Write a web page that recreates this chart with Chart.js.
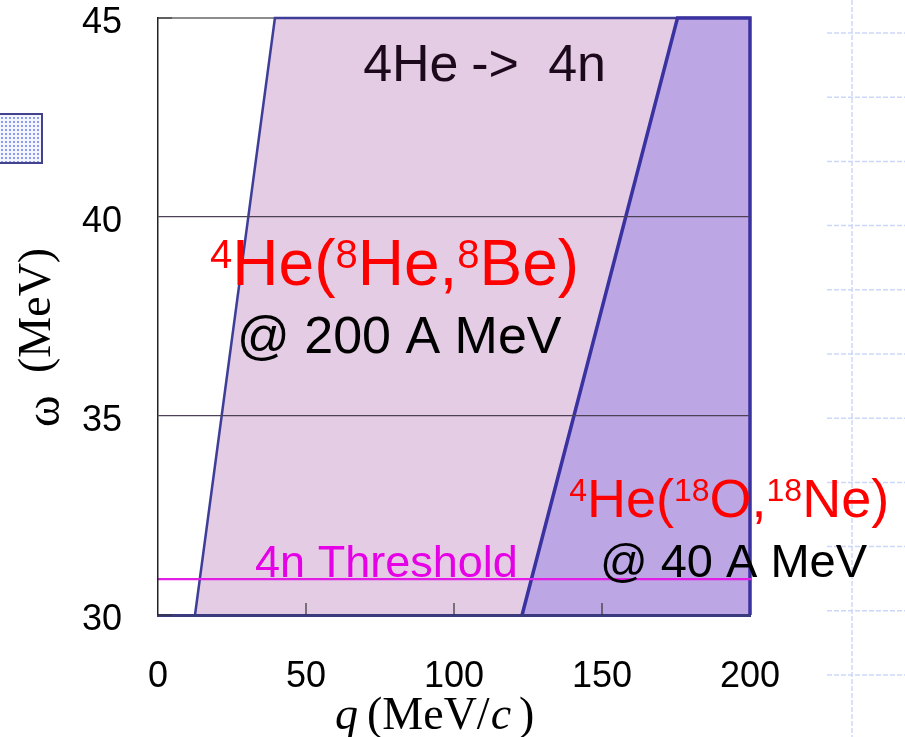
<!DOCTYPE html>
<html>
<head>
<meta charset="utf-8">
<script src="https://cdn.jsdelivr.net/npm/chart.js@4.4.1/dist/chart.umd.min.js"></script>
<style>
  html, body { margin: 0; padding: 0; background: #fff; }
  #wrap { width: 905px; height: 737px; }
</style>
</head>
<body>
<div id="wrap"><canvas id="chart" width="905" height="737"></canvas></div>
<script>
// axis ticks
const qTicks = [0, 50, 100, 150, 200];
const omegaTicks = [30, 35, 40, 45];

// 4He(8He,8Be) @ 200 A MeV : left edge + top of the covered region (q, omega)
const he8Q = [12.5, 39.5, 200];
const he8W = [30, 45, 45];

// 4He(18O,18Ne) @ 40 A MeV : left edge, top, right edge
const o18Q = [123, 175.5, 200, 200];
const o18W = [30, 45, 45, 30];

// 4n threshold
const threshQ = [0, 200.5];
const threshW = [30.9, 30.9];

const toXY = (qs, ws) => qs.map((q, i) => ({ x: q, y: ws[i] }));

const SANS = '"Liberation Sans", Arial, sans-serif';
const SERIF = '"Liberation Serif", "Times New Roman", serif';

// draw text made of normal / superscript runs
function drawRich(ctx, x, y, parts, size, supSize, rise, color) {
    ctx.fillStyle = color;
    ctx.textAlign = 'left';
    ctx.textBaseline = 'alphabetic';
    for (const [txt, sup] of parts) {
        ctx.font = (sup ? supSize : size) + 'px ' + SANS;
        ctx.fillText(txt, x, sup ? y - rise : y);
        x += ctx.measureText(txt).width;
    }
}

const decor = {
    id: 'decor',
    beforeDraw(chart) {
        const ctx = chart.ctx;
        ctx.save();
        // slide background: faint dashed grid on the right
        ctx.strokeStyle = '#cdd7fa';
        ctx.lineWidth = 1.5;
        ctx.setLineDash([5, 2]);
        ctx.beginPath();
        ctx.moveTo(852, 0); ctx.lineTo(852, 737);
        for (let y = 33; y < 737; y += 64.2) {
            ctx.moveTo(827, y); ctx.lineTo(905, y);
        }
        ctx.stroke();
        ctx.setLineDash([]);
        // dotted square on the left
        const pc = document.createElement('canvas');
        pc.width = 4; pc.height = 4;
        const g = pc.getContext('2d');
        g.fillStyle = '#f3f5ff'; g.fillRect(0, 0, 4, 4);
        g.fillStyle = '#8e9be8'; g.fillRect(1, 1, 2, 2);
        ctx.fillStyle = ctx.createPattern(pc, 'repeat');
        ctx.fillRect(-2, 113, 44, 50);
        ctx.strokeStyle = '#42428e';
        ctx.lineWidth = 2;
        ctx.strokeRect(-2, 114, 44, 49);
        ctx.restore();
    },
    afterDraw(chart) {
        const ctx = chart.ctx;
        const xs = chart.scales.x, ys = chart.scales.y;
        const a = chart.chartArea;
        const px = v => xs.getPixelForValue(v);
        const py = v => ys.getPixelForValue(v);
        ctx.save();

        // inner tick marks
        ctx.strokeStyle = '#333';
        ctx.lineWidth = 1.2;
        ctx.beginPath();
        qTicks.slice(1, -1).forEach(v => { ctx.moveTo(px(v), a.bottom); ctx.lineTo(px(v), a.bottom - 12); });
        [omegaTicks[0], omegaTicks[omegaTicks.length - 1]].forEach(v => { ctx.moveTo(a.left, py(v)); ctx.lineTo(a.left + 14, py(v)); });
        ctx.stroke();

        // annotations
        ctx.textAlign = 'left';
        ctx.textBaseline = 'alphabetic';
        ctx.fillStyle = '#1c0a1c';
        ctx.font = '52px ' + SANS;
        const tx = px(69.3), ty = py(43.42);
        ctx.fillText('4He', tx, ty);
        ctx.fillText('->', tx + 108, ty);
        ctx.fillText('4n', tx + 185, ty);

        drawRich(ctx, px(17.6), py(38.29),
            [['4', 1], ['He(', 0], ['8', 1], ['He,', 0], ['8', 1], ['Be)', 0]],
            64, 40, 17, '#ff0000');
        ctx.fillStyle = '#000';
        ctx.font = '52px ' + SANS;
        ctx.fillText('@ 200 A MeV', px(26.7), py(36.58));

        drawRich(ctx, px(138.9), py(32.46),
            [['4', 1], ['He(', 0], ['18', 1], ['O,', 0], ['18', 1], ['Ne)', 0]],
            54, 32, 16, '#ff0000');
        ctx.fillStyle = '#000';
        ctx.font = '47px ' + SANS;
        ctx.fillText('@ 40 A MeV', px(149.3), py(30.95));

        ctx.fillStyle = '#e600e6';
        ctx.font = '45px ' + SANS;
        ctx.fillText('4n Threshold', px(32.8), py(30.95));

        // x axis title: q (MeV/c)
        ctx.fillStyle = '#000';
        let x = 335;
        const yb = 729;
        ctx.font = 'italic 46px ' + SERIF;
        ctx.fillText('q', x, yb);
        x = 367;
        ctx.font = '46px ' + SERIF;
        ctx.fillText('(MeV/', x, yb);
        x += ctx.measureText('(MeV/').width + 1;
        ctx.font = 'italic 46px ' + SERIF;
        ctx.fillText('c', x, yb);
        x += ctx.measureText('c').width + 8;
        ctx.font = '46px ' + SERIF;
        ctx.fillText(')', x, yb);

        // y axis title: omega (MeV)
        ctx.translate(50, 337);
        ctx.rotate(-Math.PI / 2);
        ctx.font = '48px ' + SERIF;
        ctx.fillText('\u03c9', -90, 9);
        ctx.font = '46px ' + SERIF;
        ctx.fillText('(MeV)', -36, 0);

        ctx.restore();
    }
};

const ctx = document.getElementById('chart').getContext('2d');

const chart = new Chart(ctx, {
    type: 'scatter',
    data: {
        datasets: [
            {
                label: '4He(8He,8Be)',
                data: toXY(he8Q, he8W),
                xAxisID: 'x',
                showLine: true,
                tension: 0,
                pointRadius: 0,
                borderColor: '#3e3e98',
                borderWidth: 2.5,
                backgroundColor: '#e4cde4',
                fill: 'start',
                clip: false,
                order: 2
            },
            {
                label: '4He(18O,18Ne)',
                data: toXY(o18Q, o18W),
                xAxisID: 'x',
                showLine: true,
                tension: 0,
                pointRadius: 0,
                borderColor: '#3a32a0',
                borderWidth: 3.5,
                backgroundColor: '#bca6e4',
                fill: 'start',
                clip: false,
                order: 1
            },
            {
                label: '4n Threshold',
                data: toXY(threshQ, threshW),
                xAxisID: 'x',
                showLine: true,
                tension: 0,
                pointRadius: 0,
                borderColor: '#e21ee6',
                borderWidth: 2.2,
                fill: false,
                clip: false,
                order: 0
            }
        ]
    },
    options: {
        responsive: false,
        animation: false,
        events: [],
        layout: {
            padding: { top: 18, right: 155, left: 0, bottom: 0 }
        },
        plugins: {
            legend: { display: false },
            tooltip: { enabled: false },
            title: { display: false }
        },
        scales: {
            x: {
                type: 'linear',
                position: 'bottom',
                min: 0,
                max: 200,
                afterBuildTicks: s => { s.ticks = qTicks.map(v => ({ value: v })); },
                afterFit: s => { s.height = 122; s.paddingLeft = 0; s.paddingRight = 0; },
                grid: { display: false, drawTicks: false },
                border: { display: true, color: '#3a3a7e', width: 3, z: 1 },
                ticks: {
                    autoSkip: false,
                    maxRotation: 0,
                    padding: 40,
                    color: '#000',
                    font: { family: SANS, size: 36 }
                }
            },
            x2: {
                type: 'linear',
                position: 'top',
                min: 0,
                max: 200,
                afterFit: s => { s.height = 0; s.paddingLeft = 0; s.paddingRight = 0; },
                grid: { display: false, drawTicks: false },
                border: { display: true, color: '#8c8c8c', width: 2 },
                ticks: { display: false }
            },
            y: {
                type: 'linear',
                min: 30,
                max: 45,
                afterBuildTicks: s => { s.ticks = omegaTicks.map(v => ({ value: v })); },
                afterFit: s => { s.width = 158; s.paddingTop = 0; s.paddingBottom = 0; },
                grid: {
                    z: 1,
                    drawTicks: false,
                    color: c => (c.tick && (c.tick.value === 35 || c.tick.value === 40)) ? '#4b4258' : 'rgba(0,0,0,0)',
                    lineWidth: 1.2
                },
                border: { display: true, color: '#222', width: 1.5, z: 1 },
                ticks: {
                    padding: 36,
                    labelOffset: 5,
                    color: '#000',
                    font: { family: SANS, size: 36 }
                }
            }
        }
    },
    plugins: [decor]
});
</script>
</body>
</html>
